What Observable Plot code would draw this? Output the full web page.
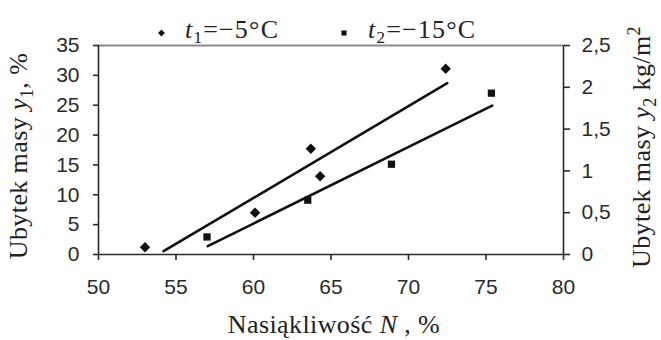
<!DOCTYPE html>
<html>
<head>
<meta charset="utf-8">
<script src="https://cdn.jsdelivr.net/npm/d3@7"></script>
<script src="https://cdn.jsdelivr.net/npm/@observablehq/plot@0.6"></script>
<style>
  html, body { margin: 0; padding: 0; background: #fff; }
  #chart { width: 661px; height: 340px; }
  .serif text, .serif tspan { font-family: 'Liberation Serif', 'Times New Roman', serif; }
</style>
</head>
<body>
<div id="chart"></div>
<script>
// ---- data ----
const xTicks = [50, 55, 60, 65, 70, 75, 80];
const y1Ticks = [0, 5, 10, 15, 20, 25, 30, 35];
const y2Ticks = [0, 0.5, 1, 1.5, 2, 2.5];
const RATIO = 14; // 35 % on the left axis == 2.5 kg/m² on the right axis

// t1 = -5°C  (left axis, y1 in %)
const t1N = [53.0, 60.1, 63.7, 64.3, 72.4];
const t1Y = [1.2, 7.0, 17.7, 13.1, 31.1];
// t2 = -15°C (right axis, y2 in kg/m²)
const t2N = [57.0, 63.5, 68.9, 75.35];
const t2Y = [0.21, 0.65, 1.08, 1.93];
// trend lines
const fit1N = [54.2, 72.5];
const fit1Y = [0.55, 28.7];
const fit2N = [57.05, 75.4];
const fit2Y = [0.10, 1.78];

const legendLabels = [["t", "1", "=−5°C"], ["t", "2", "=−15°C"]];

// ---- build tables ----
const pts1 = t1N.map((n, i) => ({n, y: t1Y[i]}));
const pts2 = t2N.map((n, i) => ({n, y: t2Y[i] * RATIO}));
const line1 = fit1N.map((n, i) => ({n, y: fit1Y[i]}));
const line2 = fit2N.map((n, i) => ({n, y: fit2Y[i] * RATIO}));

const ink = "#111";
const axisInk = "#2a2a2a";
const sans = "'Liberation Sans', Arial, sans-serif";
const serif = "'Liberation Serif', 'Times New Roman', serif";

const chart = Plot.plot({
  width: 661,
  height: 340,
  marginLeft: 98,
  marginRight: 98,
  marginTop: 45,
  marginBottom: 86,
  style: `font-family: ${sans}; font-size: 21px; background: #fff; color: ${axisInk}; overflow: visible;`,
  x: {domain: [50, 80]},
  y: {domain: [0, 35]},
  marks: [
    Plot.ruleY([35], {stroke: "#8c8c8c", strokeWidth: 2}),
    Plot.ruleX([50], {stroke: axisInk, strokeWidth: 1.6}),
    Plot.ruleX([80], {stroke: axisInk, strokeWidth: 1.6}),
    Plot.ruleY([0], {stroke: axisInk, strokeWidth: 1.6}),
    Plot.axisX({ticks: xTicks, tickSize: 6, tickPadding: 19, label: null, strokeWidth: 1.6, fill: axisInk}),
    Plot.axisY({ticks: y1Ticks, anchor: "left", tickSize: 5, tickPadding: 14, label: null, strokeWidth: 1.6, fill: axisInk}),
    Plot.axisY(y2Ticks.map(v => v * RATIO), {
      anchor: "right", tickSize: 6, tickPadding: 12, label: null, strokeWidth: 1.6, fill: axisInk,
      tickFormat: d => String(+(d / RATIO).toFixed(2)).replace(".", ",")
    }),
    Plot.line(line1, {x: "n", y: "y", stroke: ink, strokeWidth: 2.6}),
    Plot.line(line2, {x: "n", y: "y", stroke: ink, strokeWidth: 2.6}),
    Plot.dot(pts1, {x: "n", y: "y", symbol: "diamond2", r: 4.7, fill: ink, stroke: "none"}),
    Plot.dot(pts2, {x: "n", y: "y", symbol: "square", r: 4.1, fill: ink, stroke: "none"})
  ]
});

document.getElementById("chart").appendChild(chart);

// ---- titles and legend (text) ----
const svg = d3.select(chart);
const g = svg.append("g").attr("class", "serif").attr("fill", "#222")
  .attr("font-family", serif).attr("font-size", 26).attr("text-anchor", "start");

// bottom title
const bt = g.append("text").attr("x", 334).attr("y", 333).attr("text-anchor", "middle")
  .style("letter-spacing", "0.4px");
bt.append("tspan").text("Nasiąkliwość ");
bt.append("tspan").attr("font-style", "italic").text("N");
bt.append("tspan").text(" , %");

// left title
const lt = g.append("text").attr("text-anchor", "middle")
  .attr("transform", "translate(27,156) rotate(-90)").style("letter-spacing", "0.4px");
lt.append("tspan").text("Ubytek masy ");
lt.append("tspan").attr("font-style", "italic").text("y");
lt.append("tspan").attr("dy", 6).attr("font-size", 18).text("1");
lt.append("tspan").attr("dy", -6).text(", %");

// right title
const rt = g.append("text").attr("text-anchor", "middle")
  .attr("transform", "translate(650,147) rotate(-90)").style("letter-spacing", "0.4px");
rt.append("tspan").text("Ubytek masy ");
rt.append("tspan").attr("font-style", "italic").text("y");
rt.append("tspan").attr("dy", 6).attr("font-size", 18).text("2");
rt.append("tspan").attr("dy", -6).text(" kg/m");
rt.append("tspan").attr("dy", -10).attr("font-size", 18).text("2");

// legend
const legendMarks = [
  {sym: d3.symbolDiamond2, size: 30, mx: 161.5, tx: 185},
  {sym: d3.symbolSquare, size: 26, mx: 344, tx: 368}
];
legendMarks.forEach((m, i) => {
  g.append("path")
    .attr("d", d3.symbol(m.sym, m.size)())
    .attr("transform", `translate(${m.mx},33)`)
    .attr("fill", ink);
  const t = g.append("text").attr("x", m.tx).attr("y", 38).attr("text-anchor", "start")
    .style("letter-spacing", "1.2px");
  t.append("tspan").attr("font-style", "italic").text(legendLabels[i][0]);
  t.append("tspan").attr("dy", 5).attr("font-size", 17).text(legendLabels[i][1]);
  t.append("tspan").attr("dy", -5).text(legendLabels[i][2]);
});
</script>
</body>
</html>
